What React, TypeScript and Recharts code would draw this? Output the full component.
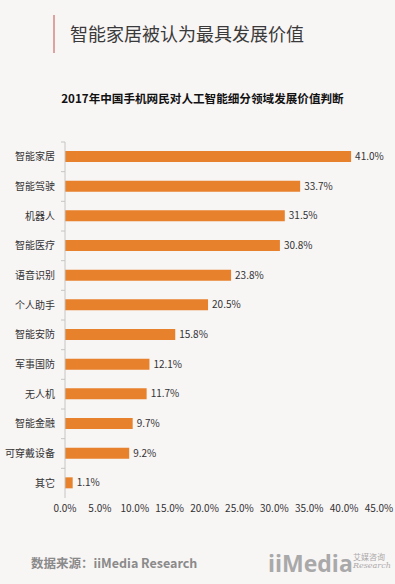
import React from 'react';
import { BarChart, Bar, XAxis, YAxis, LabelList } from 'recharts';

const categories = [
    '智能家居', '智能驾驶', '机器人', '智能医疗', '语音识别', '个人助手',
    '智能安防', '军事国防', '无人机', '智能金融', '可穿戴设备', '其它',
];
const values = [41.0, 33.7, 31.5, 30.8, 23.8, 20.5, 15.8, 12.1, 11.7, 9.7, 9.2, 1.1];
const xTicks = [0, 5, 10, 15, 20, 25, 30, 35, 40, 45];

const data = categories.map((name, i) => ({ name, value: values[i] }));

const W = 395;
const H = 584;
const PLOT_TOP = 142;
const PLOT_BOTTOM = 498;
const X_AXIS_H = 30;
const Y_AXIS_W = 65;
const BAND = (PLOT_BOTTOM - PLOT_TOP) / categories.length;

const FONT = '"Noto Sans CJK SC", "Noto Sans", sans-serif';
const BAR_COLOR = '#E8812B';
const TEXT = '#333';
const AXIS = '#c8c4c4';

const pct = (v: number) => `${Number(v).toFixed(1)}%`;

const CategoryTick = (props: any) => {
    const { x, y, payload } = props;
    const axisX = x + 10;
    return (
        <g>
            <line x1={axisX - 4} x2={axisX} y1={y - BAND / 2} y2={y - BAND / 2} stroke={AXIS} />
            <text x={x} y={y} dy={3.5} textAnchor="end" fontSize={10} fill={TEXT} fontFamily={FONT}>
                {payload.value}
            </text>
        </g>
    );
};

const App = () => {
    return (
        <div
            style={{
                position: 'absolute',
                left: 0,
                top: 0,
                width: W,
                height: H,
                background: '#f8f5f5',
                fontFamily: FONT,
                overflow: 'hidden',
            }}
        >
            <div style={{ position: 'absolute', left: 53, top: 15, width: 2, height: 38, background: '#dca3a0' }} />
            <div style={{ position: 'absolute', left: 70, top: 20, fontSize: 18, color: '#3a3a3a', lineHeight: '26px' }}>
                智能家居被认为最具发展价值
            </div>
            <div
                style={{
                    position: 'absolute',
                    left: 0,
                    width: W + 10,
                    top: 89,
                    textAlign: 'center',
                    fontSize: 11.6,
                    fontWeight: 700,
                    color: '#111',
                    lineHeight: '18px',
                }}
            >
                2017年中国手机网民对人工智能细分领域发展价值判断
            </div>

            <div style={{ position: 'absolute', left: 0, top: 0 }}>
                <BarChart
                    width={W}
                    height={H}
                    data={data}
                    layout="vertical"
                    margin={{ top: PLOT_TOP, right: 16, left: 0, bottom: H - PLOT_BOTTOM - X_AXIS_H }}
                >
                    <XAxis
                        type="number"
                        domain={[0, 45]}
                        ticks={xTicks}
                        tickFormatter={pct}
                        axisLine={false}
                        tickLine={false}
                        tickSize={0}
                        tickMargin={7}
                        height={X_AXIS_H}
                        interval={0}
                        tick={{ fontSize: 10, fill: TEXT, fontFamily: FONT }}
                    />
                    <YAxis
                        type="category"
                        dataKey="name"
                        width={Y_AXIS_W}
                        axisLine={{ stroke: AXIS }}
                        tickLine={false}
                        tickSize={0}
                        tickMargin={10}
                        interval={0}
                        tick={<CategoryTick />}
                    />
                    <Bar dataKey="value" fill={BAR_COLOR} barSize={11} isAnimationActive={false}>
                        <LabelList
                            dataKey="value"
                            position="right"
                            offset={4}
                            formatter={pct}
                            style={{ fontSize: 10, fill: TEXT, fontFamily: FONT }}
                        />
                    </Bar>
                </BarChart>
            </div>

            <div
                style={{
                    position: 'absolute',
                    left: 31,
                    top: 554,
                    fontSize: 12.5,
                    fontWeight: 700,
                    color: '#8a8a8a',
                    lineHeight: '18px',
                    whiteSpace: 'nowrap',
                }}
            >
                数据来源：iiMedia Research
            </div>
            <div
                style={{
                    position: 'absolute',
                    left: 268,
                    top: 548,
                    fontSize: 23,
                    fontWeight: 700,
                    color: '#a9a9a9',
                    lineHeight: '30px',
                    fontFamily: '"Open Sans", sans-serif',
                    whiteSpace: 'nowrap',
                }}
            >
                iiMedia
            </div>
            <div style={{ position: 'absolute', left: 353, top: 552, fontSize: 8, color: '#aaa', lineHeight: '9px' }}>
                艾媒咨询
            </div>
            <div
                style={{
                    position: 'absolute',
                    left: 353,
                    top: 561,
                    fontSize: 8,
                    fontStyle: 'italic',
                    color: '#aaa',
                    lineHeight: '9px',
                    fontFamily: '"DejaVu Serif", serif',
                }}
            >
                Research
            </div>
        </div>
    );
};

export default App;
